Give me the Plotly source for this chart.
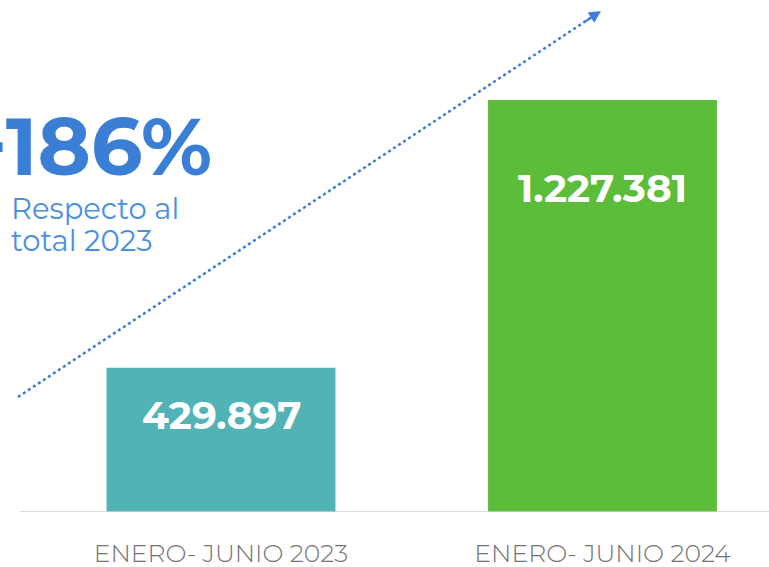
import plotly.graph_objects as go

categories = ["ENERO- JUNIO 2023", "ENERO- JUNIO 2024"]
values = [429897, 1227381]
value_labels = ["429.897", "1.227.381"]
bar_colors = ["#52b3b6", "#5bbd3a"]
label_shift = [-47, -88]
growth_text = "+186%"
growth_sub = ["Respecto al", "total 2023"]

W, H = 769, 567
bottom_px = 512
top_bar_px = 100
units_per_px = values[1] / (bottom_px - top_bar_px)
ymax = units_per_px * bottom_px

c0_px, c1_px = 221, 602.5
cat_px = c1_px - c0_px
xr = [-c0_px / cat_px, (W - c0_px) / cat_px]

def px_to_x(p):
    return (p - c0_px) / cat_px

def px_to_y(p):
    return (bottom_px - p) * units_per_px

FONT = "Montserrat, Lato, Open Sans"

fig = go.Figure()
fig.add_trace(go.Bar(
    x=[0, 1], y=values, width=0.6,
    marker=dict(color=bar_colors, line=dict(width=0)),
    hoverinfo="skip",
))

for i, (v, lab) in enumerate(zip(values, value_labels)):
    fig.add_annotation(
        x=i, y=v, xref="x", yref="y", yanchor="middle", yshift=label_shift[i],
        text=lab, showarrow=False,
        font=dict(family=FONT, size=39, color="white", weight="bold"),
    )

# dotted trend arrow
ax0, ay0 = px_to_x(18), px_to_y(397)
ax1, ay1 = px_to_x(601), px_to_y(11)
fig.add_trace(go.Scatter(
    x=[ax0, ax1 - (ax1 - ax0) * 0.01], y=[ay0, ay1 - (ay1 - ay0) * 0.01], mode="lines",
    line=dict(color="#3b7dd8", width=2.5, dash="dot"), hoverinfo="skip", cliponaxis=False,
))
fig.add_annotation(
    x=ax1, y=ay1, ax=ax1 - (ax1 - ax0) * 0.03, ay=ay1 - (ay1 - ay0) * 0.03,
    xref="x", yref="y", axref="x", ayref="y", text="", showarrow=True,
    arrowhead=2, arrowsize=1.2, arrowwidth=2, arrowcolor="#3b7dd8",
)

# baseline
fig.add_shape(type="line", xref="x", yref="y", x0=px_to_x(20), x1=xr[1], y0=0, y1=0,
              line=dict(color="#cfcfcf", width=1.5))

fig.add_annotation(
    xref="paper", yref="y", x=214 / W, y=px_to_y(146), xanchor="right", yanchor="middle",
    text=growth_text, showarrow=False,
    font=dict(family=FONT, size=81, color="#3a7fd5", weight="bold"),
)
for j, line in enumerate(growth_sub):
    fig.add_annotation(
        xref="paper", yref="y", x=9 / W, y=px_to_y(208 + 32 * j),
        xanchor="left", yanchor="middle",
        text=line, showarrow=False, align="left",
        font=dict(family=FONT, size=29, color="#4a90e2"),
    )

fig.update_layout(
    width=W, height=H,
    margin=dict(l=0, r=0, t=0, b=H - bottom_px, autoexpand=False),
    paper_bgcolor="white", plot_bgcolor="white",
    showlegend=False,
    xaxis=dict(range=xr, tickmode="array", tickvals=[0, 1], ticktext=categories,
               ticks="outside", ticklen=19, tickcolor="rgba(0,0,0,0)", automargin=False,
               tickfont=dict(family=FONT, size=25, color="#747474", weight=300),
               showgrid=False, zeroline=False, showline=False, fixedrange=True),
    yaxis=dict(range=[0, ymax], visible=False, showgrid=False, zeroline=False,
               fixedrange=True, automargin=False),
)

fig.write_html("out.html", config={"displayModeBar": False},
               post_script="document.body.style.margin='0';document.body.style.overflow='hidden';")
